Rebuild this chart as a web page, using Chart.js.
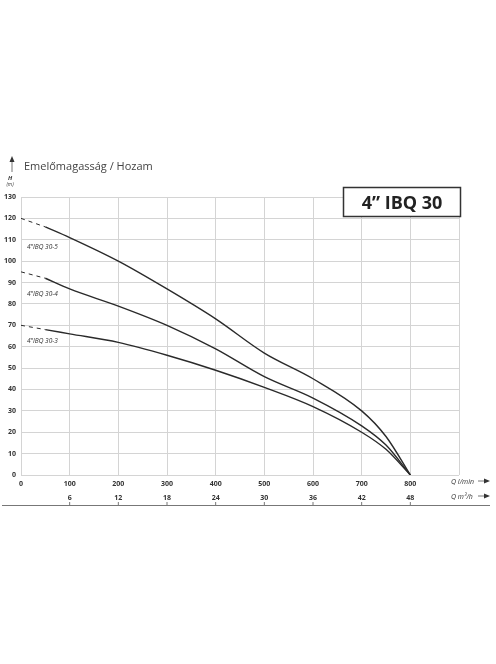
<!DOCTYPE html><html><head><style>html,body{margin:0;background:#fff}#w{width:496px;height:664px}</style>
<script src="https://cdn.jsdelivr.net/npm/chart.js@4"></script></head><body><div id="w"><canvas id="c"></canvas></div>
<script>
const flowLmin=[50,100,200,300,400,500,600,700,750,800];
const h305=[116,111,100,87,73,57,45,30,18,0];
const h304=[92,87,79,70,59,46,36,23,14,0];
const h303=[68,66,62,56,49,41,32,20,12,0];
const dashStart=[[0,120],[0,95],[0,70]];
const seriesNames=['4"IBQ 30-5','4"IBQ 30-4','4"IBQ 30-3'];
const secondTicks=[6,12,18,24,30,36,42,48];
const pts=a=>flowLmin.map((x,i)=>({x,y:a[i]}));
const dash=(s,a)=>[{x:s[0],y:s[1]},{x:flowLmin[0],y:a[0]}];
const solid={borderColor:'#2a2a2a',borderWidth:1.4,pointRadius:0,cubicInterpolationMode:'monotone',fill:false};
const dsh={borderColor:'#2a2a2a',borderWidth:1,pointRadius:0,borderDash:[4,4],fill:false};
const extra={id:'extra',afterDraw(ch){const c=ch.ctx,xs=ch.scales.x;c.save();
c.fillStyle='#333';c.font='bold 7px "Open Sans"';c.textAlign='center';
secondTicks.forEach((t,i)=>{const x=xs.getPixelForValue((i+1)*100);c.fillText(t,x,500);c.strokeStyle='#777';c.lineWidth=1;c.beginPath();c.moveTo(x,502);c.lineTo(x,506);c.stroke();});
c.strokeStyle='#777';c.beginPath();c.moveTo(2,505.5);c.lineTo(490,505.5);c.stroke();
c.font='italic 7px "Open Sans"';c.textAlign='left';c.fillText('Q l/min',451,484);c.fillText('Q m³/h',451,499);
[481,496].forEach(y=>{c.beginPath();c.moveTo(478,y);c.lineTo(487,y);c.stroke();c.beginPath();c.moveTo(490,y);c.lineTo(484,y-2.5);c.lineTo(484,y+2.5);c.fill();});
c.font='italic bold 6px "Open Sans"';c.textAlign='center';c.fillText('H',10,180);c.font='italic 5px "Open Sans"';c.fillText('(m)',10,186);
c.beginPath();c.moveTo(12,172);c.lineTo(12,160);c.stroke();c.beginPath();c.moveTo(12,156);c.lineTo(9.5,162);c.lineTo(14.5,162);c.fill();
c.font='11px "Open Sans"';c.textAlign='left';c.fillStyle='#444';c.fillText('Emelőmagasság / Hozam',24,170);
c.fillStyle='#fff';c.fillRect(343,187,118,30);c.strokeStyle='#333';c.lineWidth=1.5;c.strokeRect(343.5,187.5,117,29);
c.fillStyle='#222';c.font='bold 18px "Open Sans"';c.textAlign='center';c.fillText('4” IBQ 30',402,209);
c.font='italic 6.5px "Open Sans"';c.textAlign='left';c.fillStyle='#333';
c.fillText(seriesNames[0],27,249);c.fillText(seriesNames[1],27,296);c.fillText(seriesNames[2],27,343);
c.restore();}};
new Chart(document.getElementById('c'),{type:'line',data:{datasets:[
{...solid,data:pts(h305)},{...solid,data:pts(h304)},{...solid,data:pts(h303)},
{...dsh,data:dash(dashStart[0],h305)},{...dsh,data:dash(dashStart[1],h304)},{...dsh,data:dash(dashStart[2],h303)}]},
options:{responsive:true,maintainAspectRatio:false,animation:false,layout:{padding:{top:197,right:37,left:0,bottom:0}},
plugins:{legend:{display:false},tooltip:{enabled:false}},
scales:{x:{type:'linear',min:0,max:900,afterFit:s=>{s.height=189},grid:{color:'#d4d4d4',borderDash:[1,1],drawTicks:false},border:{display:false},
ticks:{stepSize:100,padding:5,color:'#333',font:{size:7,weight:'bold',family:'"Open Sans"'},callback:v=>v>800?'':v}},
y:{min:0,max:130,afterFit:s=>{s.width=21},grid:{color:'#d4d4d4',borderDash:[1,1],drawTicks:false},border:{display:false},
ticks:{stepSize:10,padding:5,color:'#333',font:{size:7,weight:'bold',family:'"Open Sans"'}}}}},plugins:[extra]});
</script></body></html>
